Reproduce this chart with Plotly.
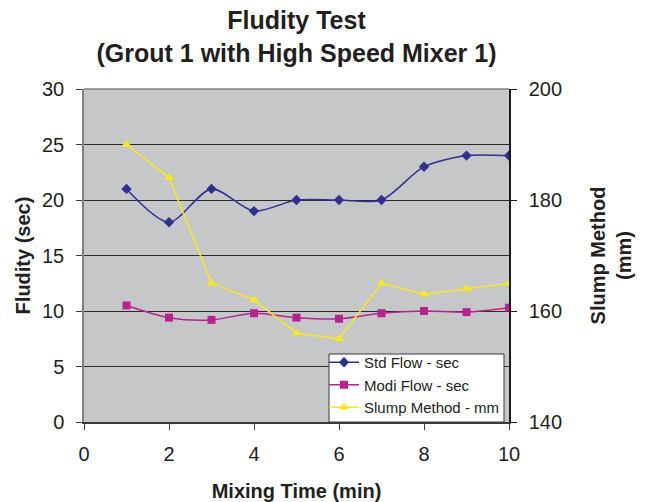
import plotly.graph_objects as go

# Mixing time (min)
mixing_time = [1, 2, 3, 4, 5, 6, 7, 8, 9, 10]
# Fluidity by standard flow cone (sec)
std_flow = [21, 18, 21, 19, 20, 20, 20, 23, 24, 24]
# Fluidity by modified flow cone (sec)
modi_flow = [10.5, 9.4, 9.2, 9.8, 9.4, 9.3, 9.8, 10.0, 9.9, 10.3]
# Slump spread (mm), right axis
slump_mm = [190, 184, 165, 162, 156, 155, 165, 163, 164, 165]

FONT = "Liberation Sans, Arial, sans-serif"
STD_C = "#2E3192"
MODI_C = "#BA2190"
SLUMP_C = "#F7E91B"

fig = go.Figure()

fig.add_trace(go.Scatter(
    x=mixing_time, y=std_flow, name="Std Flow - sec",
    mode="lines+markers", line=dict(color=STD_C, width=1.5, shape="spline", smoothing=0.8),
    marker=dict(symbol="diamond", size=8, color=STD_C),
))
fig.add_trace(go.Scatter(
    x=mixing_time, y=modi_flow, name="Modi Flow - sec",
    mode="lines+markers", line=dict(color=MODI_C, width=1.5, shape="spline", smoothing=0.8),
    marker=dict(symbol="square", size=8, color=MODI_C),
))
fig.add_trace(go.Scatter(
    x=mixing_time, y=slump_mm, name="Slump Method - mm", yaxis="y2",
    mode="lines+markers", line=dict(color=SLUMP_C, width=1.5),
    marker=dict(symbol="triangle-up", size=9, color=SLUMP_C),
))

fig.update_layout(
    width=647, height=502,
    margin=dict(l=84, r=138, t=89, b=80, autoexpand=False),
    paper_bgcolor="white",
    plot_bgcolor="#C6C7C9",
    font=dict(family=FONT, color="#231F20", size=20),
    title=dict(
        text="<b>Fludity Test<br>(Grout 1 with High Speed Mixer 1)</b>",
        x=(84 + 509) / 2 / 647, xanchor="center",
        y=1 - 29 / 502, yanchor="middle",
        font=dict(size=25, family=FONT, color="#231F20"),
    ),
    xaxis=dict(
        range=[0, 10], dtick=2, tick0=0, automargin=False,
        showgrid=False, zeroline=False,
        showline=True, linecolor="#3A3A3A", linewidth=1.5,
        ticks="outside", ticklen=6, tickcolor="#3A3A3A",
        ticklabelstandoff=7,
        tickfont=dict(size=20),
        title=dict(text="<b>Mixing Time (min)</b>", font=dict(size=20), standoff=20),
    ),
    yaxis=dict(
        range=[0, 30], dtick=5, tick0=0, automargin=False,
        showgrid=True, gridcolor="#2A2A2A", gridwidth=1,
        zeroline=False,
        showline=True, linecolor="#808080", linewidth=1.5,
        ticks="outside", ticklen=6, tickcolor="#3A3A3A",
        ticklabelstandoff=8,
        tickfont=dict(size=20),
        title=dict(text="<b>Fludity (sec)</b>", font=dict(size=20), standoff=6),
    ),
    yaxis2=dict(
        range=[140, 200], dtick=20, tick0=140, automargin=False,
        overlaying="y", side="right",
        showgrid=False, zeroline=False,
        showline=True, linecolor="#1A1A1A", linewidth=1.5,
        ticks="outside", ticklen=6, tickcolor="#1A1A1A",
        ticklabelstandoff=8,
        tickfont=dict(size=20),
        title=dict(text="<b>Slump Method<br>(mm)</b>", font=dict(size=20), standoff=30),
    ),
    legend=dict(
        x=(505 - 84) / 425, xanchor="right",
        y=-2 / 333, yanchor="bottom",
        bgcolor="rgba(0,0,0,0)", borderwidth=0,
        font=dict(size=15, family=FONT, color="#231F20"),
        tracegroupgap=0, itemwidth=30,
    ),
    showlegend=True,
)

# Plot-area frame along the top edge
fig.add_shape(type="line", xref="paper", yref="paper", x0=0, x1=1, y0=1, y1=1,
              line=dict(color="#808080", width=1.5))
# Legend box
fig.add_shape(type="rect", xref="paper", yref="paper", layer="above",
              x0=(329 - 84) / 425, x1=(504 - 84) / 425, y0=0, y1=(422 - 354) / 333,
              fillcolor="white", line=dict(color="#3A3A3A", width=1))

fig.write_html("out.html")
